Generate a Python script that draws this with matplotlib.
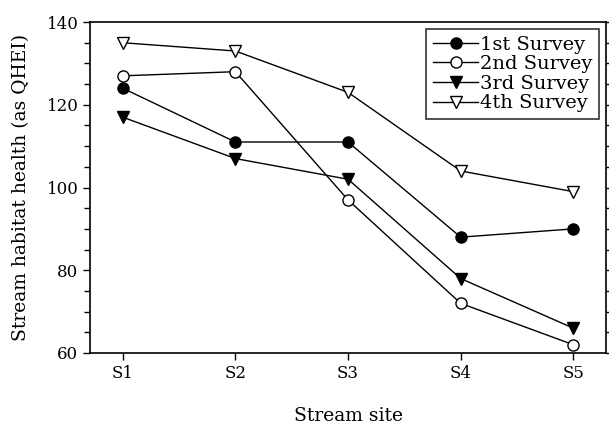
import matplotlib
matplotlib.use("Agg")
import matplotlib.pyplot as plt
from matplotlib.ticker import MultipleLocator

sites = ["S1", "S2", "S3", "S4", "S5"]
survey1 = [124, 111, 111, 88, 90]
survey2 = [127, 128, 97, 72, 62]
survey3 = [117, 107, 102, 78, 66]
survey4 = [135, 133, 123, 104, 99]
labels = ["1st Survey", "2nd Survey", "3rd Survey", "4th Survey"]

plt.rcParams['font.family'] = ['DejaVu Serif']
fig = plt.figure(figsize=(6.09, 4.24), dpi=100)
ax = fig.add_axes([0.148, 0.1675, 0.847, 0.7805])

x = list(range(1, len(sites) + 1))
styles = [
    dict(marker='o', mfc='black', mec='black'),
    dict(marker='o', mfc='white', mec='black'),
    dict(marker='v', mfc='black', mec='black'),
    dict(marker='v', mfc='white', mec='black'),
]
for vals, lab, st in zip([survey1, survey2, survey3, survey4], labels, styles):
    ax.plot(x, vals, color='black', lw=1.0, ms=8, mew=1.0, label=lab, **st)

ax.set_xlim(0.71, 5.29)
ax.set_ylim(60, 140)
ax.set_xticks(x)
ax.set_xticklabels(sites)
ax.yaxis.set_major_locator(MultipleLocator(20))
ax.yaxis.set_minor_locator(MultipleLocator(5))
ax.tick_params(axis='both', which='major', direction='out', length=5, width=1,
               labelsize=12)
ax.tick_params(axis='y', which='minor', direction='out', length=4, width=1)
ax.tick_params(axis='y', which='both', right=True)
for sp in ax.spines.values():
    sp.set_linewidth(1.2)

ax.set_xlabel("Stream site", fontsize=13.5, labelpad=18)
ax.set_ylabel("Stream habitat health (as QHEI)", fontsize=13.5, labelpad=12)

leg = ax.legend(loc='upper right', fontsize=14, frameon=True, fancybox=False,
                edgecolor='black', handlelength=2.3, handletextpad=0.1,
                borderpad=0.35, labelspacing=0.08, borderaxespad=0.35)
leg.get_frame().set_linewidth(1.2)

fig.savefig("out.png", dpi=100)
